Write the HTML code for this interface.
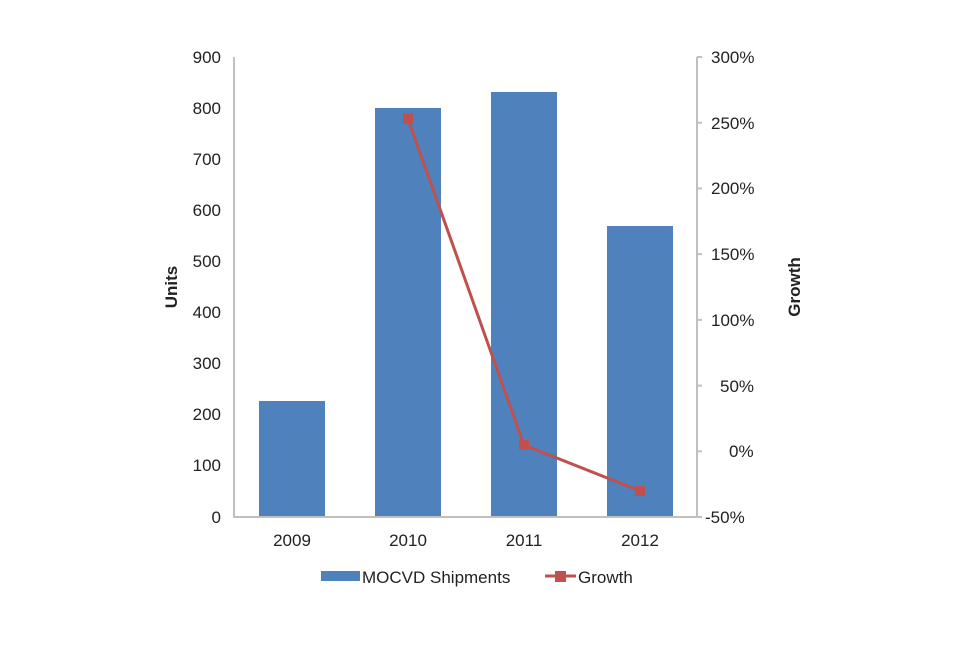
<!DOCTYPE html>
<html><head><style>body{margin:0;background:#fff}svg text{font-family:"Liberation Sans",sans-serif;fill:#222}</style></head>
<body>
<svg width="960" height="640" viewBox="0 0 960 640">
<g fill="#4f81bd">
<rect x="259" y="401" width="66" height="116"/>
<rect x="375" y="108" width="66" height="409"/>
<rect x="491" y="92" width="66" height="425"/>
<rect x="607" y="226" width="66" height="291"/>
</g>
<g stroke="#c0c0c0" stroke-width="2" fill="none">
<line x1="234" y1="57" x2="234" y2="517"/>
<line x1="233" y1="517" x2="698" y2="517"/>
<line x1="697" y1="57" x2="697" y2="517"/>
<path d="M697 57h5M697 122.7h5M697 188.4h5M697 254.1h5M697 319.9h5M697 385.6h5M697 451.3h5M697 517h5"/>
</g>
<g font-size="17" text-anchor="end">
<text x="221" y="63">900</text><text x="221" y="114">800</text><text x="221" y="165">700</text><text x="221" y="216">600</text><text x="221" y="267">500</text><text x="221" y="318">400</text><text x="221" y="369">300</text><text x="221" y="420">200</text><text x="221" y="471">100</text><text x="221" y="523">0</text>
</g>
<g font-size="17" text-anchor="start">
<text x="711" y="63">300%</text><text x="711" y="129">250%</text><text x="711" y="194">200%</text><text x="711" y="260">150%</text><text x="711" y="326">100%</text><text x="720" y="392">50%</text><text x="729" y="457">0%</text><text x="705" y="523">-50%</text>
</g>
<g font-size="17" text-anchor="middle">
<text x="292" y="546">2009</text><text x="408" y="546">2010</text><text x="524" y="546">2011</text><text x="640" y="546">2012</text>
</g>
<text font-size="17" font-weight="bold" transform="translate(177,287) rotate(-90)" text-anchor="middle">Units</text>
<text font-size="17" font-weight="bold" transform="translate(800,287) rotate(-90)" text-anchor="middle">Growth</text>
<polyline points="408,119 524,445 640,491" fill="none" stroke="#c0504d" stroke-width="3"/>
<g fill="#c0504d">
<rect x="403" y="114" width="10" height="10"/><rect x="519" y="440" width="10" height="10"/><rect x="635" y="486" width="10" height="10"/>
</g>
<rect x="321" y="571" width="39" height="10" fill="#4f81bd"/>
<text x="362" y="583" font-size="17">MOCVD Shipments</text>
<line x1="545" y1="576" x2="576" y2="576" stroke="#c0504d" stroke-width="3"/>
<rect x="555" y="571" width="11" height="11" fill="#c0504d"/>
<text x="578" y="583" font-size="17">Growth</text>
</svg>
</body></html>
